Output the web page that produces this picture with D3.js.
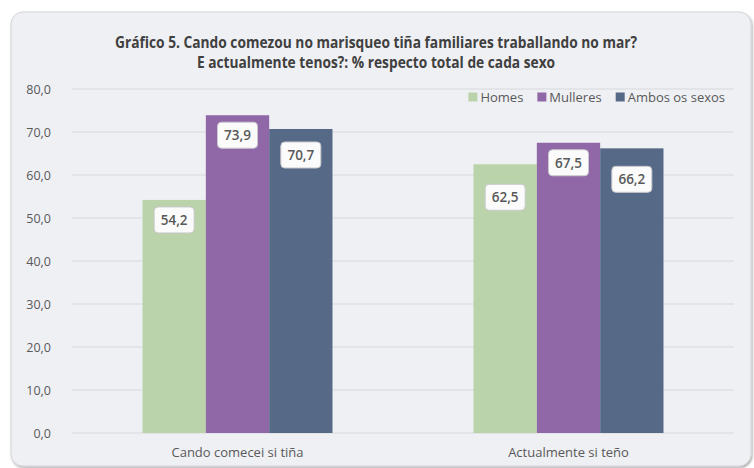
<!DOCTYPE html>
<html>
<head>
<meta charset="utf-8">
<script src="https://cdn.jsdelivr.net/npm/d3@7"></script>
<style>
  body { margin: 0; background: #fff; }
  text { font-family: "Open Sans", sans-serif; }
</style>
</head>
<body>
<svg id="chart"></svg>
<script>
(function(){

    var W = 754, H = 468;

    // data
    var categories = ["Cando comecei si tiña", "Actualmente si teño"];
    var series = ["Homes", "Mulleres", "Ambos os sexos"];
    var values = [
        [54.2, 73.9, 70.7],
        [62.5, 67.5, 66.2]
    ];
    var yTicks = [0, 10, 20, 30, 40, 50, 60, 70, 80];
    var titleLines = [
        "Gráfico 5. Cando comezou no marisqueo tiña familiares traballando no mar?",
        "E actualmente tenos?: % respecto total de cada sexo"
    ];

    var colors = ["#bad3aa", "#9068a8", "#566a88"];
    // how far (px) each data label sits below its bar top, as placed in the original
    var labelDrop = [[20, 20, 26], [33, 20, 31]];

    var plot = {left: 72, right: 734, top: 89, bottom: 433};

    var fmt = function(v) { return d3.format(".1f")(v).replace(".", ","); };

    var svg = d3.select("svg#chart")
        .attr("width", W)
        .attr("height", H);

    var defs = svg.append("defs");
    var f = defs.append("filter").attr("id", "shadow")
        .attr("x", "-5%").attr("y", "-5%").attr("width", "110%").attr("height", "110%");
    f.append("feDropShadow")
        .attr("dx", 1).attr("dy", 1.5).attr("stdDeviation", 1)
        .attr("flood-color", "#000").attr("flood-opacity", 0.35);

    // chart frame
    svg.append("rect")
        .attr("x", 11).attr("y", 12)
        .attr("width", 740).attr("height", 454)
        .attr("rx", 12)
        .style("fill", "#eff0f4")
        .style("stroke", "#d4d5d9")
        .style("stroke-width", 1)
        .attr("filter", "url(#shadow)");

    // title, squeezed a little to get the narrow look of the original face
    var title = svg.append("g");
    titleLines.forEach(function(t, i) {
        var el = title.append("text")
            .attr("x", 376)
            .attr("y", 48 + i * 20)
            .attr("text-anchor", "middle")
            .style("font-size", "15.8px")
            .style("font-weight", "bold")
            .style("fill", "#404040")
            .text(t);
        var w = el.node().getComputedTextLength();
        el.attr("textLength", w * 0.87).attr("lengthAdjust", "spacingAndGlyphs");
    });

    var yScale = d3.scaleLinear()
        .domain([0, 80])
        .range([plot.bottom, plot.top]);

    var x0 = d3.scaleBand()
        .domain(categories)
        .range([plot.left, plot.right])
        .paddingInner(0.426)
        .paddingOuter(0.213);

    var x1 = d3.scaleBand()
        .domain(series)
        .range([0, x0.bandwidth()]);

    // gridlines
    svg.append("g")
        .selectAll("line")
        .data(yTicks)
        .enter()
        .append("line")
        .attr("x1", plot.left)
        .attr("x2", plot.right)
        .attr("y1", function(d) { return yScale(d); })
        .attr("y2", function(d) { return yScale(d); })
        .style("stroke", "#d6d7db")
        .style("stroke-width", 1.2);

    // y axis labels
    var yAxis = svg.append("g")
        .attr("transform", "translate(" + (plot.left - 18) + ",0)")
        .call(d3.axisLeft(yScale).tickValues(yTicks).tickSize(0).tickFormat(fmt));
    yAxis.select(".domain").remove();
    yAxis.selectAll("text")
        .style("font-family", "'Open Sans', sans-serif")
        .style("font-size", "12.5px")
        .style("fill", "#595959");

    // x axis labels
    var xAxis = svg.append("g")
        .attr("transform", "translate(0," + (plot.bottom + 12) + ")")
        .call(d3.axisBottom(x0).tickSize(0));
    xAxis.select(".domain").remove();
    xAxis.selectAll("text")
        .style("font-family", "'Open Sans', sans-serif")
        .style("font-size", "13px")
        .style("fill", "#595959");

    // bars
    var groups = svg.append("g")
        .selectAll("g")
        .data(values)
        .enter()
        .append("g")
        .attr("transform", function(d, i) { return "translate(" + x0(categories[i]) + ",0)"; });

    groups.selectAll("rect")
        .data(function(d) { return d; })
        .enter()
        .append("rect")
        .attr("x", function(d, j) { return x1(series[j]); })
        .attr("y", function(d) { return yScale(d); })
        .attr("width", x1.bandwidth())
        .attr("height", function(d) { return yScale(0) - yScale(d); })
        .style("fill", function(d, j) { return colors[j]; });

    // data labels in white boxes
    groups.each(function(row, i) {
        var g = d3.select(this);
        row.forEach(function(v, j) {
            var cx = x1(series[j]) + x1.bandwidth() / 2;
            var cy = yScale(v) + labelDrop[i][j];
            g.append("rect")
                .attr("x", cx - 20).attr("y", cy - 13)
                .attr("width", 40).attr("height", 26)
                .attr("rx", 4)
                .style("fill", "#fbfbfc")
                .style("stroke", "#c9c9cc")
                .style("stroke-width", 1);
            g.append("text")
                .attr("x", cx).attr("y", cy)
                .attr("dy", "0.36em")
                .attr("text-anchor", "middle")
                .style("font-size", "13.5px")
                .style("font-weight", 600)
                .style("fill", "#595959")
                .text(fmt(v));
        });
    });

    // legend, laid out from the right edge
    var legend = svg.append("g");
    var lx = 725;
    for (var k = series.length - 1; k >= 0; k--) {
        var t = legend.append("text")
            .attr("y", 97)
            .attr("dy", "0.35em")
            .style("font-size", "13px")
            .style("fill", "#595959")
            .text(series[k]);
        var tw = t.node().getComputedTextLength();
        t.attr("x", lx - tw);
        legend.append("rect")
            .attr("x", lx - tw - 12).attr("y", 92.5)
            .attr("width", 9).attr("height", 9)
            .style("fill", colors[k]);
        lx = lx - tw - 12 - 14;
    }

})();
</script>
</body>
</html>
